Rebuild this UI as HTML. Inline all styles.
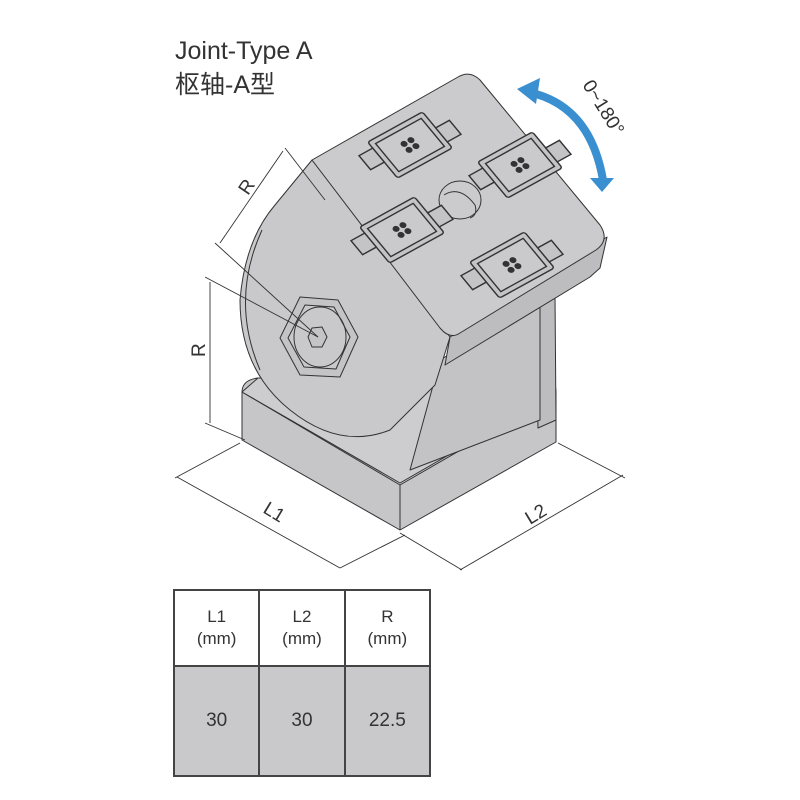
<!DOCTYPE html>
<html><head><meta charset="utf-8"><style>
body{margin:0;background:#fff;width:800px;height:800px;overflow:hidden;position:relative;font-family:"Liberation Sans","Noto Sans CJK SC",sans-serif}
.t{position:absolute;color:#333;font-size:25px;line-height:30px}
table{position:absolute;left:173px;top:589px;width:258px;table-layout:fixed;border-collapse:collapse;font-family:"Liberation Sans",sans-serif;color:#333}
td{border:2px solid #444;text-align:center;font-size:17px;padding:0}
.h td{height:74px;background:#fff;line-height:22px}
.b td{height:108px;background:#c9c9cb;font-size:19px}
</style></head><body>
<svg width="800" height="800" style="position:absolute;left:0;top:0">
<defs>
<g id="pad" stroke="#333" stroke-width="1.1" fill="#c4c4c6">
<rect x="-24" y="-18" width="48" height="36" rx="2"/>
<rect x="-20" y="-14" width="40" height="28" fill="#cacacc"/>
<rect x="-36" y="-12" width="12" height="14"/>
<rect x="24" y="-2" width="12" height="14"/>
<g fill="#333" stroke="none"><circle cx="-3" cy="-3" r="2.5"/><circle cx="3" cy="-3" r="2.5"/><circle cx="-3" cy="3" r="2.5"/><circle cx="3" cy="3" r="2.5"/></g>
</g>
</defs>
<g stroke="#333" stroke-width="1" fill="#c9c9cb" stroke-linejoin="round">
<path d="M242,392 Q242,380 258,378 L545,378 Q556,380 556,392 L556,442 L400,530 L242,440 Z" fill="#c6c6c8"/>
<path d="M242,392 L400,485 L556,395" fill="none"/>
<path d="M400,485 L400,530" fill="none"/>
<path d="M242,392 L400,483 L556,393 L545,378 L258,378 Z" fill="#cdcdcf"/>
<path d="M535,300 L555,295 L556,420 L538,428 Z" fill="#bdbdbf"/>
<path d="M440,360 L540,300 L540,420 L410,470 Z" fill="#c3c3c5"/>
<path d="M312,160 L450,337 L435,385 L390,430 Q340,450 290,410 Q240,370 240,300 Q245,240 275,205 Z" fill="#c9c9cb"/>
<path d="M262,230 Q230,300 260,370" fill="none"/>
<path d="M450,337 L607,237 L600,268 L590,277 L445,365 Z" fill="#bdbdbf"/>
<path d="M312,160 L458,77 Q470,70 480,80 L600,225 Q610,240 596,250 L460,333 Q450,340 440,328 Z" fill="#cbcbcd"/>
<polygon points="300,297 338,300 358,337 340,377 300,375 280,338" fill="#c4c4c6"/>
<polygon points="305,305 334,307 350,337 336,369 304,367 288,338" fill="#c9c9cb"/>
<ellipse cx="320" cy="337" rx="26" ry="30" fill="none"/>
<polygon points="312,328 322,327 327,337 322,347 312,347 308,337" fill="#c4c4c6"/>
<ellipse cx="460" cy="200" rx="21" ry="19" fill="#cbcbcd"/>
<path d="M444,195 Q460,185 475,205 Q478,215 470,218" fill="none"/>
</g>
<use href="#pad" transform="matrix(1.14,-0.63,0.83,1.0,410,145)"/>
<use href="#pad" transform="matrix(1.14,-0.63,0.83,1.0,520,165)"/>
<use href="#pad" transform="matrix(1.14,-0.63,0.83,1.0,402,230)"/>
<use href="#pad" transform="matrix(1.14,-0.63,0.83,1.0,512,265)"/>
<path d="M528,92 Q590,105 603,180" fill="none" stroke="#3a8fd0" stroke-width="8"/>
<polygon points="517,89 540,78 536,104" fill="#3a8fd0"/>
<polygon points="590,178 614,178 602,192" fill="#3a8fd0"/>
<g stroke="#333" stroke-width="0.9" fill="none">
<line x1="285" y1="148" x2="325" y2="200"/>
<line x1="215" y1="243" x2="318" y2="337"/>
<line x1="283" y1="151" x2="220" y2="243"/>
<line x1="205" y1="277" x2="318" y2="337"/>
<line x1="210" y1="282" x2="210" y2="423"/>
<line x1="205" y1="423" x2="245" y2="440"/>
<line x1="177" y1="477" x2="340" y2="568"/>
<line x1="175" y1="478" x2="240" y2="443"/>
<line x1="340" y1="568" x2="405" y2="535"/>
<line x1="400" y1="533" x2="462" y2="570"/>
<line x1="460" y1="570" x2="623" y2="475"/>
<line x1="558" y1="443" x2="625" y2="478"/>
</g>
<g font-family="Liberation Sans,sans-serif" font-size="19" fill="#333">
<text transform="translate(248,196) rotate(-56)">R</text>
<text transform="translate(205,357) rotate(-90)">R</text>
<text transform="translate(262,512) rotate(31)">L1</text>
<text transform="translate(530,525) rotate(-31)">L2</text>
<text transform="translate(582,85) rotate(58)">0~180°</text>
</g>
</svg>
<div class="t" style="left:175px;top:36px">Joint-Type A</div>
<div class="t" style="left:175px;top:70px">枢轴-A型</div>
<table>
<tr class="h"><td>L1<br>(mm)</td><td>L2<br>(mm)</td><td>R<br>(mm)</td></tr>
<tr class="b"><td>30</td><td>30</td><td>22.5</td></tr>
</table>
</body></html>
